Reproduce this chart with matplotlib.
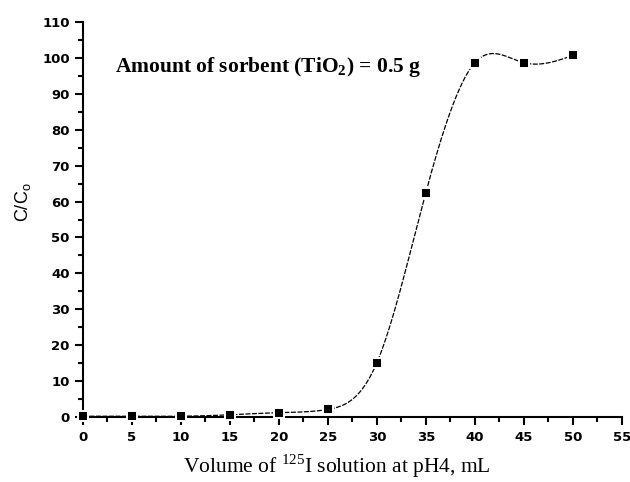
import numpy as np
import matplotlib
matplotlib.use('Agg')
import matplotlib.pyplot as plt
from matplotlib.ticker import MultipleLocator

plt.rcParams['mathtext.fontset'] = 'custom'
plt.rcParams['mathtext.rm'] = 'Liberation Serif'
plt.rcParams['mathtext.bf'] = 'Liberation Serif:bold'
plt.rcParams['mathtext.sf'] = 'Liberation Sans'

# data
volume = [0, 5, 10, 15, 20, 25, 30, 35, 40, 45, 50]
ratio = [0.3, 0.3, 0.3, 0.7, 1.3, 2.2, 15.2, 62.5, 98.6, 98.6, 100.6]


def natural_spline(x, y, xs):
    # plain natural cubic spline, used only to draw the smooth connecting line
    x = np.asarray(x, float)
    y = np.asarray(y, float)
    n = len(x)
    h = np.diff(x)
    A = np.zeros((n, n))
    b = np.zeros(n)
    A[0, 0] = A[-1, -1] = 1
    for i in range(1, n - 1):
        A[i, i - 1] = h[i - 1]
        A[i, i] = 2 * (h[i - 1] + h[i])
        A[i, i + 1] = h[i]
        b[i] = 3 * ((y[i + 1] - y[i]) / h[i] - (y[i] - y[i - 1]) / h[i - 1])
    c = np.linalg.solve(A, b)
    idx = np.clip(np.searchsorted(x, xs) - 1, 0, n - 2)
    dx = xs - x[idx]
    bb = (y[idx + 1] - y[idx]) / h[idx] - h[idx] * (2 * c[idx] + c[idx + 1]) / 3
    d = (c[idx + 1] - c[idx]) / (3 * h[idx])
    return y[idx] + bb * dx + c[idx] * dx ** 2 + d * dx ** 3


fig = plt.figure(figsize=(6.3, 4.82), dpi=100)
ax = fig.add_axes([0.1317, 0.1342, 0.8553, 0.8208])

xs = np.linspace(volume[0], volume[-1], 400)
ax.plot(xs, natural_spline(volume, ratio, xs), color='black', lw=0.9,
        linestyle=(0, (4, 1.2)), zorder=2)
ax.plot(volume, ratio, 's', color='black', markersize=7,
        markeredgecolor='white', markeredgewidth=1.4, clip_on=False, zorder=3)

ax.set_xlim(0, 55)
ax.set_ylim(0, 110)
ax.xaxis.set_major_locator(MultipleLocator(5))
ax.xaxis.set_minor_locator(MultipleLocator(2.5))
ax.yaxis.set_major_locator(MultipleLocator(10))
ax.yaxis.set_minor_locator(MultipleLocator(5))

for s in ['top', 'right']:
    ax.spines[s].set_visible(False)
for s in ['left', 'bottom']:
    ax.spines[s].set_linewidth(1.5)

ax.tick_params(which='major', direction='out', length=6, width=1.5, labelsize=9.5)
ax.tick_params(which='minor', direction='out', length=3.5, width=1.5)
for lab in ax.get_xticklabels() + ax.get_yticklabels():
    lab.set_fontweight('bold')

ax.set_ylabel('C/C$_\\mathsf{o}$', fontsize=13, family='Liberation Sans')
ax.yaxis.set_label_coords(-0.092, 0.544)
ax.set_xlabel('Volume of $^{125}$I solution at pH4, mL', fontsize=15.5,
              family='Liberation Serif')
ax.xaxis.set_label_coords(0.471, -0.088)

ax.text(3.3, 96.0, 'Amount of sorbent (TiO$_\\mathbf{2}$) = 0.5 g', fontsize=15.5,
        fontweight='bold', family='Liberation Serif', va='baseline')

fig.savefig('out.png', dpi=100)
